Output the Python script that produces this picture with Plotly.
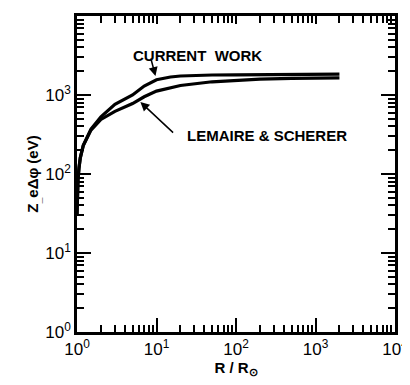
import plotly.graph_objects as go

# Data
r_current = [1.0, 1.01, 1.03, 1.06, 1.1, 1.2, 1.5, 2, 3, 5, 7, 10, 15, 20, 30, 50, 100, 200, 500, 1000, 2000]
z_current = [30, 55, 85, 120, 160, 230, 370, 530, 760, 1000, 1300, 1560, 1690, 1740, 1770, 1790, 1800, 1810, 1820, 1830, 1840]

r_lemaire = [1.0, 1.01, 1.03, 1.06, 1.1, 1.2, 1.5, 2, 3, 5, 7, 10, 20, 50, 100, 200, 500, 1000, 2000]
z_lemaire = [30, 55, 85, 120, 160, 230, 360, 490, 620, 780, 950, 1120, 1320, 1470, 1540, 1590, 1620, 1640, 1650]

tickvals = [1, 10, 100, 1000, 10000]
ticktext = ["10<sup>0</sup>", "10<sup>1</sup>", "10<sup>2</sup>", "10<sup>3</sup>", "10<sup>4</sup>"]
minorvals = [m * d for d in [1, 10, 100, 1000] for m in range(2, 10)]

FONT = "Liberation Sans"

fig = go.Figure()
fig.add_trace(go.Scatter(x=r_current, y=z_current, mode="lines",
                         line=dict(color="black", width=3.2),
                         name="CURRENT WORK"))
fig.add_trace(go.Scatter(x=r_lemaire, y=z_lemaire, mode="lines",
                         line=dict(color="black", width=3.2),
                         name="LEMAIRE & SCHERER"))
# carrier traces for the tick overlay axes (draw nothing)
for k in (2, 3, 4):
    fig.add_trace(go.Scatter(x=r_lemaire, y=z_lemaire, mode="none",
                             xaxis=f"x{k}", yaxis=f"y{k}",
                             hoverinfo="skip", showlegend=False))

base = dict(type="log", showgrid=False, zeroline=False, automargin=False, range=[0, 4],
            ticks="inside", tickcolor="black")
major = dict(base, ticklen=14, tickwidth=2, tickmode="array", tickvals=tickvals)
minor = dict(base, ticklen=7, tickwidth=1.6, tickmode="array", tickvals=minorvals,
             showticklabels=False, showline=False)

fig.update_layout(
    xaxis=dict(major, ticktext=ticktext, showline=True, linecolor="black", linewidth=2.5, mirror=True,
               tickfont=dict(family=FONT, size=17, color="black"),
               title=dict(text="<b>R / R<sub>⊙</sub></b>",
                          font=dict(family=FONT, size=15, color="black"), standoff=0)),
    yaxis=dict(major, ticktext=ticktext, showline=True, linecolor="black", linewidth=2.5, mirror=True,
               tickfont=dict(family=FONT, size=17, color="black"),
               title=dict(text="<b>Z<sub>_</sub>eΔφ (eV)</b>",
                          font=dict(family=FONT, size=15, color="black"), standoff=4)),
    # minor ticks, bottom / left
    xaxis2=dict(minor, overlaying="x", anchor="y2", side="bottom"),
    yaxis2=dict(minor, overlaying="y", anchor="x2", side="left"),
    # mirrored major ticks, top / right
    xaxis3=dict(major, overlaying="x", anchor="y3", side="top", ticklen=8, showticklabels=False, showline=False),
    yaxis3=dict(major, overlaying="y", anchor="x3", side="right", showticklabels=False, showline=False),
    # mirrored minor ticks, top / right
    xaxis4=dict(minor, overlaying="x", anchor="y4", side="top"),
    yaxis4=dict(minor, overlaying="y", anchor="x4", side="right"),
)

fig.add_annotation(xref="paper", yref="paper", x=(197 - 77) / 318, y=(332 - 45) / 316,
                   text="<b>CURRENT  WORK</b>", showarrow=False,
                   font=dict(family=FONT, size=15, color="black"))
fig.add_annotation(xref="paper", yref="paper", x=(267 - 77) / 318, y=(332 - 135) / 316,
                   text="<b>LEMAIRE & SCHERER</b>", showarrow=False,
                   font=dict(family=FONT, size=15, color="black"))

# arrows (data coordinates in log units)
fig.add_annotation(x=(155 - 77) / 79, y=3 + (94 - 75) / 79, xref="x", yref="y",
                   ax=(150 - 77) / 79, ay=3 + (94 - 56) / 79, axref="x", ayref="y",
                   text="", showarrow=True, arrowhead=2, arrowsize=1.2, arrowwidth=1.5, arrowcolor="black")
fig.add_annotation(x=(140 - 77) / 79, y=3 - (101 - 94) / 79, xref="x", yref="y",
                   ax=(174 - 77) / 79, ay=3 - (133 - 94) / 79, axref="x", ayref="y",
                   text="", showarrow=True, arrowhead=2, arrowsize=1.2, arrowwidth=1.5, arrowcolor="black")

# page body has an 8px margin, so the figure is sized/offset to compensate
fig.update_layout(
    width=402, height=377,
    margin=dict(l=69, r=15, t=8, b=53),
    plot_bgcolor="white", paper_bgcolor="white",
    showlegend=False,
)

fig.write_html("out.html")
